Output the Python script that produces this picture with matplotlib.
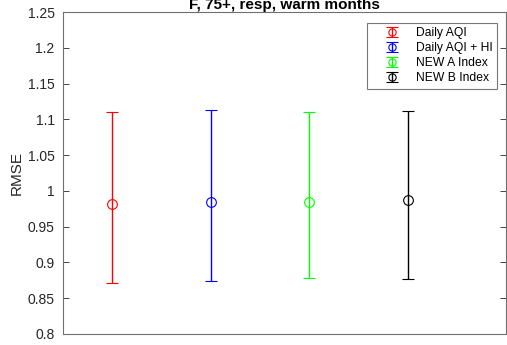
import matplotlib.pyplot as plt
from matplotlib.legend_handler import HandlerErrorbar
from matplotlib.container import ErrorbarContainer

plt.rcParams['font.family'] = ['Liberation Sans', 'DejaVu Sans']

labels = ["Daily AQI", "Daily AQI + HI", "NEW A Index", "NEW B Index"]
colors = ["#ff0000", "#0000ff", "#00ff00", "#000000"]
rmse = [0.982, 0.984, 0.985, 0.987]
lower = [0.871, 0.874, 0.878, 0.877]
upper = [1.110, 1.113, 1.111, 1.112]

fig = plt.figure(figsize=(5.07, 3.45), dpi=100)
ax = fig.add_axes([0.124, 0.032, 0.875, 0.933])

for i, (lab, c) in enumerate(zip(labels, colors)):
    x = i + 1
    ax.errorbar([x], [rmse[i]],
                yerr=[[rmse[i] - lower[i]], [upper[i] - rmse[i]]],
                fmt='o', color=c, mfc='none', mec=c, ms=7, capsize=4,
                elinewidth=1, capthick=1, mew=0.8, label=lab)

ax.set_xlim(0.5, 5.0)
ax.set_ylim(0.8, 1.25)
ax.set_yticks([0.8, 0.85, 0.9, 0.95, 1, 1.05, 1.1, 1.15, 1.2, 1.25])
ax.set_yticklabels(["0.8", "0.85", "0.9", "0.95", "1", "1.05", "1.1", "1.15", "1.2", "1.25"])
ax.set_xticks([])
ax.tick_params(axis='y', direction='in', length=4, width=0.6, right=True,
               labelsize=10, colors='#262626', pad=6)
for s in ax.spines.values():
    s.set_color('#707070')
    s.set_linewidth(0.8)

ax.set_ylabel("RMSE", fontsize=11, color='#262626', labelpad=3)
ax.set_title("F, 75+, resp, warm months", fontsize=11, fontweight='bold', pad=2)

leg = ax.legend(loc='upper right', bbox_to_anchor=(0.978, 0.966), fontsize=8.7,
                frameon=True, fancybox=False, edgecolor='#555555',
                handlelength=3.4, handletextpad=0.3, borderpad=0.35,
                labelspacing=0.25, borderaxespad=0, markerscale=0.75,
                handler_map={ErrorbarContainer: HandlerErrorbar(yerr_size=0.38)})
leg.get_frame().set_linewidth(0.8)

fig.savefig("out.png", dpi=100)
